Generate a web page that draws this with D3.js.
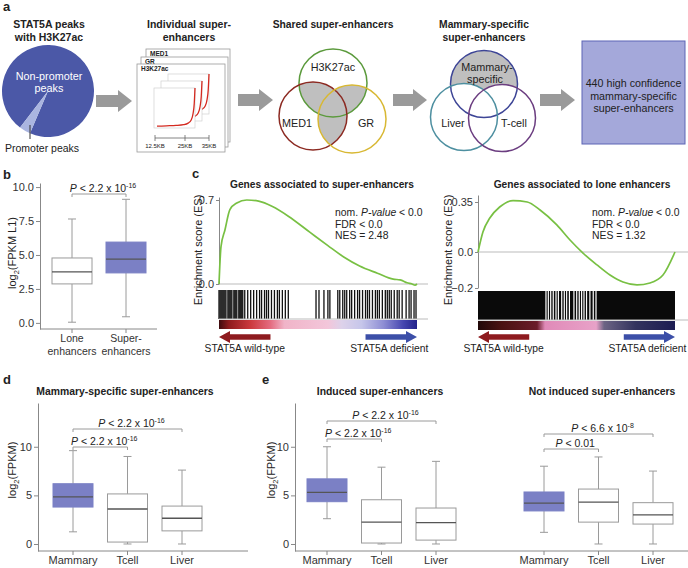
<!DOCTYPE html>
<html>
<head>
<meta charset="utf-8">
<script src="https://cdn.jsdelivr.net/npm/d3@7"></script>
<style>
  body { margin: 0; background: #fff; }
  svg text { font-family: "Liberation Sans", Arial, Helvetica, sans-serif; fill: #222; }
</style>
</head>
<body>
<svg id="fig" width="688" height="568"></svg>
<script>
// ---- values ----
const pieValues = [96, 4];                       // non-promoter, promoter
const cardNames = ["MED1", "GR", "H3K27ac"];
const miniCurve = [[0, 0.02], [0.25, 0.03], [0.5, 0.04], [0.7, 0.06], [0.82, 0.1], [0.9, 0.18], [0.95, 0.35], [0.98, 0.6], [1, 1]];
const miniTicks = [12.5, 25, 35];
const sharedSets = ["H3K27ac", "MED1", "GR"];
const tissueSets = ["Mammary-specific", "Liver", "T-cell"];
const summaryLines = ["440 high confidence", "mammary-specific", "super-enhancers"];

const bCats = [["Lone", "enhancers"], ["Super-", "enhancers"]];
const bFive = [[0.05, 2.87, 3.75, 4.78, 7.65], [0.45, 3.68, 4.70, 5.95, 9.10]];
const bTicks = [0, 2.5, 5, 7.5, 10];

const tissues = ["Mammary", "Tcell", "Liver"];
const dFive = [[1.25, 3.8, 4.85, 6.2, 9.6], [0, 0.2, 3.6, 5.15, 9.0], [0, 1.35, 2.65, 3.9, 7.6]];
const eIndFive = [[2.6, 4.35, 5.3, 6.7, 10.0], [0, 0.1, 2.25, 4.55, 7.9], [0, 0.4, 2.2, 3.7, 8.5]];
const eNotFive = [[1.2, 3.4, 4.2, 5.35, 8.0], [0, 2.25, 4.3, 5.65, 8.95], [0, 2.05, 3.0, 4.25, 7.5]];
const fpkmTicks = [0, 5, 10];

const bPairs = [{ a: 0, b: 1, p: "2.2 x 10", e: "-16" }];
const dPairs = [{ a: 0, b: 1, p: "2.2 x 10", e: "-16" }, { a: 0, b: 2, p: "2.2 x 10", e: "-16" }];
const eIndPairs = [{ a: 0, b: 1, p: "2.2 x 10", e: "-16" }, { a: 0, b: 2, p: "2.2 x 10", e: "-16" }];
const eNotPairs = [{ a: 0, b: 1, p: "0.01", e: null }, { a: 0, b: 2, p: "6.6 x 10", e: "-8" }];

// GSEA running enrichment score, [rank %, ES]
const esSuper = [[0, 0], [1, 0.31], [3, 0.45], [5.5, 0.62], [9, 0.675], [14, 0.70], [20, 0.69], [27, 0.645], [35, 0.565],
  [46, 0.43], [55, 0.32], [63, 0.225], [71, 0.15], [80, 0.09], [88, 0.04], [91.5, 0.035], [95, 0.01], [97.5, 0], [99, -0.01], [100, 0]];
const esLone = [[0, 0], [2.5, 0.14], [6, 0.238], [11, 0.315], [17.8, 0.36], [25, 0.35], [31.5, 0.294], [40, 0.19], [46.7, 0.084],
  [53.3, -0.006], [60.4, -0.072], [67, -0.128], [73.6, -0.167], [80.7, -0.183], [87.3, -0.172], [93.9, -0.128], [100, 0]];
const esSuperStats = ["< 0.0", "FDR < 0.0", "NES = 2.48"];
const esLoneStats = ["< 0.0", "FDR < 0.0", "NES = 1.32"];
// hit positions (rank %) for the super-enhancer gene set
const hitsSuper = [0, 0.5, 1, 1.5, 2, 2.5, 3, 3.5, 4.5, 5, 5.5, 6, 6.5, 7.5, 8, 8.5, 9, 10, 10.5, 11, 11.5, 12,
  13, 14.5, 16, 17.5, 19, 20.5, 21.5, 23, 24, 25, 26.5, 28, 29.5, 30.5, 32, 33.5, 35,
  49, 50.5, 53, 55, 56, 60, 61, 62.5, 63.5, 64.5, 66, 67, 68.5, 70, 71, 72.5, 74, 75, 76, 77.5, 79, 80, 81,
  82.5, 84, 85, 86, 87, 88.5, 90, 91, 92.5, 94.5, 96, 97, 98.5, 99.5];
// lone enhancer set: hits everywhere except these ranks
const gapsLone = [34.5, 35.7, 36.9, 38.2, 39.6, 40.8, 42.5, 43.8, 45, 46.4, 48.7, 50.1, 51.4, 52.6, 53.8, 55.1, 56.8, 58.5, 59.9];

// ---- helpers ----
const svg = d3.select("#fig");
const defs = svg.append("defs");
const PURPLE = "#7b80c5";
const GREY = "#9a9a9a";
const FS = 10.5;     // general label size

function txt(g, x, y, s, o = {}) {
  return g.append("text")
    .attr("x", x).attr("y", y)
    .attr("font-size", o.size || FS)
    .attr("font-weight", o.bold ? "bold" : null)
    .attr("text-anchor", o.anchor || "middle")
    .style("fill", o.fill || "#222")
    .text(s);
}

function blockArrow(g, x0, x1, cy, bh, hh, hl, dir, color) {
  const pts = dir > 0
    ? [[x0, cy - bh], [x1 - hl, cy - bh], [x1 - hl, cy - hh], [x1, cy], [x1 - hl, cy + hh], [x1 - hl, cy + bh], [x0, cy + bh]]
    : [[x1, cy - bh], [x0 + hl, cy - bh], [x0 + hl, cy - hh], [x0, cy], [x0 + hl, cy + hh], [x0 + hl, cy + bh], [x1, cy + bh]];
  g.append("path").attr("d", d3.line()(pts) + "Z").attr("fill", color);
}

function pText(g, x, y, d) {
  const t = g.append("text").attr("x", x).attr("y", y).attr("text-anchor", "middle").attr("font-size", 10.5);
  t.append("tspan").attr("font-style", "italic").text("P");
  t.append("tspan").text(" < " + d.p);
  if (d.e) t.append("tspan").attr("font-size", 7).attr("dy", -4.5).text(d.e);
}

function rotLabel(x, y, pre, sub, post, size = 11) {
  const t = svg.append("text").attr("transform", `translate(${x},${y}) rotate(-90)`)
    .attr("text-anchor", "middle").attr("font-size", size);
  t.append("tspan").text(pre);
  if (sub) {
    t.append("tspan").attr("font-size", 7.5).attr("dy", 3).text(sub);
    t.append("tspan").attr("dy", -3).text(post);
  }
}

function styleAxis(g) {
  g.attr("font-size", 11);
  g.selectAll("path,line").attr("stroke", "#888");
  g.selectAll("text").style("fill", "#333");
}

// ---- panel a ----
const a = svg.append("g");
txt(a, 3, 11, "a", { size: 13, bold: true, anchor: "start" });
txt(a, 49, 28, "STAT5A peaks", { size: 10.5, bold: true });
txt(a, 49, 41, "with H3K27ac", { size: 10.5, bold: true });

const pieG = a.append("g").attr("transform", "translate(48,91)");
const pie = d3.pie().sort(null).startAngle(-142.6 * Math.PI / 180).endAngle(217.4 * Math.PI / 180);
const arc = d3.arc().innerRadius(0).outerRadius(46);
pieG.selectAll("path").data(pie(pieValues)).join("path")
  .attr("d", arc).attr("fill", (d, i) => i === 0 ? "#4b58a7" : "#aab5e0");
txt(a, 49, 80, "Non-promoter", { size: 10.8, fill: "#fff" });
txt(a, 49, 92, "peaks", { size: 10.8, fill: "#fff" });
a.append("line").attr("x1", 30).attr("x2", 30).attr("y1", 125).attr("y2", 139).attr("stroke", "#333");
txt(a, 5, 152, "Promoter peaks", { size: 10.5, anchor: "start" });

blockArrow(a, 96, 132, 101, 6, 11, 14, 1, "#9a9a9a");
blockArrow(a, 238, 273, 100, 6, 11, 14, 1, "#9a9a9a");
blockArrow(a, 393, 427, 100, 6, 11, 14, 1, "#9a9a9a");
blockArrow(a, 540, 575, 100, 6, 11, 14, 1, "#9a9a9a");

// stacked super-enhancer cards
txt(a, 189, 28, "Individual super-", { size: 10.5, bold: true });
txt(a, 189, 41, "enhancers", { size: 10.5, bold: true });
const cards = [{ x: 146, y: 49, w: 84, h: 93 }, { x: 141, y: 57, w: 87, h: 90 }, { x: 137, y: 64, w: 88, h: 88 }];
cards.forEach((c, i) => {
  a.append("rect").attr("x", c.x).attr("y", c.y).attr("width", c.w).attr("height", c.h)
    .attr("fill", "#fff").attr("stroke", "#999").attr("stroke-width", 0.8);
  txt(a, c.x + 4, c.y + 7, cardNames[i], { size: 6.5, bold: true, anchor: "start" });
});
const frames = [{ x: 168, y: 74 }, { x: 161, y: 81 }, { x: 154, y: 88 }];
frames.forEach(f => {
  const fx = d3.scaleLinear().domain([0, 1]).range([f.x + 3, f.x + 41]);
  const fy = d3.scaleLinear().domain([0, 1]).range([f.y + 39, f.y]);
  a.append("rect").attr("x", f.x).attr("y", f.y).attr("width", 41).attr("height", 40)
    .attr("fill", "#fff").attr("stroke", "#d0d0d0").attr("stroke-width", 0.7);
  a.append("path").datum(miniCurve)
    .attr("d", d3.line().x(d => fx(d[0])).y(d => fy(d[1])).curve(d3.curveMonotoneX))
    .attr("fill", "none").attr("stroke", "#d42a20").attr("stroke-width", 1.3);
});
const kb = d3.scaleLinear().domain([12.5, 35]).range([155, 209]);
a.append("line").attr("x1", kb(12.5)).attr("x2", kb(35)).attr("y1", 138).attr("y2", 138).attr("stroke", "#666").attr("stroke-width", 0.8);
miniTicks.forEach(t => {
  a.append("line").attr("x1", kb(t)).attr("x2", kb(t)).attr("y1", 135).attr("y2", 141).attr("stroke", "#666").attr("stroke-width", 0.8);
  txt(a, kb(t), 148, t + "KB", { size: 6 });
});

// shared super-enhancers venn
txt(a, 333, 28, "Shared super-enhancers", { size: 10.3, bold: true });
const sharedLayout = [
  { cx: 333, cy: 83, r: 34, c: "#5b9a3c", lx: 333, ly: 71 },
  { cx: 313, cy: 116, r: 34, c: "#8c2a22", lx: 297, ly: 127 },
  { cx: 352, cy: 119, r: 34, c: "#d8b833", lx: 366, ly: 127 }];
sharedLayout.forEach((c, i) => {
  defs.append("clipPath").attr("id", "clip" + i).append("circle").attr("cx", c.cx).attr("cy", c.cy).attr("r", c.r);
});
[[1, 0], [2, 0], [2, 1]].forEach(([i, j]) => {
  const c = sharedLayout[i];
  a.append("circle").attr("cx", c.cx).attr("cy", c.cy).attr("r", c.r)
    .attr("fill", "#bfbfbf").attr("clip-path", `url(#clip${j})`);
});
sharedLayout.forEach((c, i) => {
  a.append("circle").attr("cx", c.cx).attr("cy", c.cy).attr("r", c.r)
    .attr("fill", "none").attr("stroke", c.c).attr("stroke-width", 1.5);
  txt(a, c.lx, c.ly, sharedSets[i], { size: 10.8 });
});

// mammary-specific venn
txt(a, 484, 28, "Mammary-specific", { size: 10.3, bold: true });
txt(a, 484, 41, "super-enhancers", { size: 10.3, bold: true });
const tissueLayout = [
  { cx: 484, cy: 84, r: 33.5, c: "#3d4596" },
  { cx: 464, cy: 117, r: 33.5, c: "#4d8fa0" },
  { cx: 502, cy: 118, r: 33.5, c: "#6b3d80" }];
a.append("circle").attr("cx", tissueLayout[0].cx).attr("cy", tissueLayout[0].cy).attr("r", tissueLayout[0].r).attr("fill", "#bfbfbf");
tissueLayout.slice(1).forEach(c => a.append("circle").attr("cx", c.cx).attr("cy", c.cy).attr("r", c.r).attr("fill", "#fff"));
tissueLayout.forEach(c => a.append("circle").attr("cx", c.cx).attr("cy", c.cy).attr("r", c.r)
  .attr("fill", "none").attr("stroke", c.c).attr("stroke-width", 1.5));
const mParts = tissueSets[0].split("-");
txt(a, 487, 71, mParts[0] + "-", { size: 10.8 });
txt(a, 485, 83, mParts[1], { size: 10.8 });
txt(a, 453, 127, tissueSets[1], { size: 10.8 });
txt(a, 514, 127, tissueSets[2], { size: 10.8 });

a.append("rect").attr("x", 582).attr("y", 41).attr("width", 103).attr("height", 103)
  .attr("fill", "#a4a8da").attr("stroke", "#5c64b5").attr("stroke-width", 1);
summaryLines.forEach((s, i) => txt(a, 633.5, 87 + i * 12.5, s, { size: 10.7 }));

// ---- box plot helper ----
function boxPanel(cfg) {
  const g = svg.append("g");
  const x = d3.scalePoint().domain(d3.range(cfg.five.length)).range(cfg.xr);
  const y = cfg.y;
  const base = y.range()[0];
  if (cfg.ax !== undefined) {
    const ag = g.append("g").attr("transform", `translate(${cfg.ax},0)`)
      .call(d3.axisLeft(y).tickValues(cfg.ticks).tickFormat(cfg.fmt).tickSize(4).tickPadding(2).tickSizeOuter(0));
    styleAxis(ag);
  }
  g.append("line").attr("x1", cfg.xl[0]).attr("x2", cfg.xl[1]).attr("y1", base).attr("y2", base).attr("stroke", "#888");
  cfg.labels.forEach((lab, i) => {
    g.append("line").attr("x1", x(i)).attr("x2", x(i)).attr("y1", base).attr("y2", base + 4).attr("stroke", "#888");
    [].concat(lab).forEach((s, k) => txt(g, x(i), cfg.labY + k * 13, s, { size: cfg.labSize || 11, fill: "#333" }));
  });
  const bw = 40;
  cfg.five.forEach((f, i) => {
    const [lo, q1, med, q3, hi] = f;
    const cx = x(i);
    const filled = cfg.fill[i];
    g.append("line").attr("x1", cx).attr("x2", cx).attr("y1", y(hi)).attr("y2", y(q3)).attr("stroke", GREY);
    g.append("line").attr("x1", cx).attr("x2", cx).attr("y1", y(q1)).attr("y2", y(lo)).attr("stroke", GREY);
    [hi, lo].forEach(v => g.append("line").attr("x1", cx - 4).attr("x2", cx + 4).attr("y1", y(v)).attr("y2", y(v)).attr("stroke", GREY));
    g.append("rect").attr("x", cx - bw / 2).attr("y", y(q3)).attr("width", bw).attr("height", y(q1) - y(q3))
      .attr("fill", filled ? PURPLE : "#fff").attr("stroke", filled ? PURPLE : GREY);
    g.append("line").attr("x1", cx - bw / 2).attr("x2", cx + bw / 2).attr("y1", y(med)).attr("y2", y(med))
      .attr("stroke", "#555").attr("stroke-width", 1.3);
  });
  cfg.pairs.forEach((p, k) => {
    const ly = cfg.levels[k];
    const x1 = x(p.a), x2 = x(p.b);
    g.append("path").attr("d", `M${x1},${ly + 3}V${ly}H${x2}V${ly + 3}`).attr("fill", "none").attr("stroke", GREY);
    pText(g, (x1 + x2) / 2 + 4, ly - 2, p);
  });
  return g;
}

// ---- panel b ----
txt(svg, 3, 179, "b", { size: 13, bold: true, anchor: "start" });
const yB = d3.scaleLinear().domain([-0.45, 10.3]).range([329, 183]);
boxPanel({ five: bFive, xr: [72, 126], y: yB, ax: 40, ticks: bTicks, fmt: d3.format(".1f"),
  xl: [40, 157], labels: bCats, labY: 342, labSize: 10.5, fill: [false, true], pairs: bPairs, levels: [194] });
rotLabel(16, 253, "log", "2", "(FPKM L1)");

// ---- panel c ----
txt(svg, 192, 178, "c", { size: 13, bold: true, anchor: "start" });
function gseaPanel(cfg) {
  const g = svg.append("g");
  const x = d3.scaleLinear().domain([0, 100]).range(cfg.xr);
  const y = cfg.y;
  txt(g, cfg.titleX, 188, cfg.title, { size: 10.2, bold: true });
  const ag = g.append("g").attr("transform", `translate(${cfg.xr[0]},0)`)
    .call(d3.axisLeft(y).tickValues(cfg.ticks).tickFormat(cfg.fmt).tickSize(3).tickPadding(2).tickSizeOuter(0));
  styleAxis(ag);
  g.append("line").attr("x1", x(0)).attr("x2", cfg.lineEnd).attr("y1", y(0)).attr("y2", y(0)).attr("stroke", "#bbb");
  g.append("path").datum(cfg.es)
    .attr("d", d3.line().x(d => x(d[0])).y(d => y(d[1])).curve(d3.curveMonotoneX))
    .attr("fill", "none").attr("stroke", "#78c043").attr("stroke-width", 1.7);
  // barcode
  const [bt, bb] = cfg.bar;
  if (cfg.hits) {
    g.selectAll(".hit").data(cfg.hits).join("line")
      .attr("x1", d => x(d)).attr("x2", d => x(d)).attr("y1", bt).attr("y2", bb)
      .attr("stroke", "#111").attr("stroke-width", 1.3);
  } else {
    g.append("rect").attr("x", x(0)).attr("y", bt).attr("width", x(100) - x(0)).attr("height", bb - bt).attr("fill", "#0a0a0a");
    g.selectAll(".gap").data(cfg.gaps).join("line")
      .attr("x1", d => x(d)).attr("x2", d => x(d)).attr("y1", bt).attr("y2", bb)
      .attr("stroke", "#fff").attr("stroke-width", 1.2);
  }
  g.append("line").attr("x1", x(0)).attr("x2", cfg.lineEnd).attr("y1", bb).attr("y2", bb).attr("stroke", "#bbb");
  const grad = defs.append("linearGradient").attr("id", cfg.id);
  grad.selectAll("stop").data(cfg.stops).join("stop").attr("offset", d => d[0]).attr("stop-color", d => d[1]);
  g.append("rect").attr("x", x(0)).attr("y", bb + 1).attr("width", x(100) - x(0)).attr("height", 9).attr("fill", `url(#${cfg.id})`);
  // direction arrows
  blockArrow(g, x(0), x(26), 337, 2.8, 6, 11, -1, "#8e1b1f");
  blockArrow(g, x(74), x(100), 337, 2.8, 6, 11, 1, "#3c4fa8");
  txt(g, x(13), 352, "STAT5A wild-type", { size: 10.3 });
  txt(g, x(86), 352, "STAT5A deficient", { size: 10.3 });
  // stats
  const t0 = g.append("text").attr("x", cfg.statX).attr("y", 216).attr("font-size", 10.4);
  t0.append("tspan").text("nom. ");
  t0.append("tspan").attr("font-style", "italic").text("P-value");
  t0.append("tspan").text(" " + cfg.stats[0]);
  txt(g, cfg.statX, 227.5, cfg.stats[1], { size: 10.4, anchor: "start" });
  txt(g, cfg.statX, 239, cfg.stats[2], { size: 10.4, anchor: "start" });
  rotLabel(cfg.labX, 250, "Enrichment score (ES)", null, null, 11);
}
gseaPanel({ id: "gL", xr: [219, 417], y: d3.scaleLinear().domain([0, 0.725]).range([284, 197]),
  ticks: [0, 0.7], fmt: d3.format(".1f"), title: "Genes associated to super-enhancers", titleX: 322,
  es: esSuper, hits: hitsSuper, bar: [290, 319], lineEnd: 428, statX: 335, stats: esSuperStats, labX: 202,
  stops: [[0, "#3e0b0e"], [0.05, "#8e1b1d"], [0.16, "#cc3a3e"], [0.26, "#e46c80"], [0.33, "#f0b4c8"], [0.55, "#f3c6da"],
    [0.62, "#ddd2ea"], [0.72, "#c6c6ea"], [0.83, "#8e8ed4"], [0.93, "#4646b0"], [1, "#22228a"]] });
gseaPanel({ id: "gR", xr: [478, 675], y: d3.scaleLinear().domain([-0.2, 0, 0.35, 0.40]).range([288, 252, 202, 195]),
  ticks: [-0.2, 0, 0.35], fmt: d => d === 0.35 ? "0.35" : d3.format(".1f")(d), title: "Genes associated to lone enhancers", titleX: 582,
  es: esLone, gaps: gapsLone, bar: [291, 320], lineEnd: 688, statX: 592, stats: esLoneStats, labX: 452,
  stops: [[0, "#200808"], [0.12, "#4a1212"], [0.3, "#6a1c2a"], [0.34, "#e08ab8"], [0.6, "#e8a2c8"], [0.64, "#6c6484"],
    [0.8, "#33335e"], [1, "#1c1c52"]] });

// ---- panel d ----
txt(svg, 3, 384, "d", { size: 13, bold: true, anchor: "start" });
const yF = d3.scaleLinear().domain([-0.72, 14.5]).range([551, 403]);
txt(svg, 125, 395, "Mammary-specific super-enhancers", { size: 10.4, bold: true });
boxPanel({ five: dFive, xr: [73, 182], y: yF, ax: 38, ticks: fpkmTicks, fmt: d3.format("d"),
  xl: [38, 248], labels: tissues, labY: 564, fill: [true, false, false], pairs: dPairs, levels: [447, 429] });
rotLabel(16, 470, "log", "2", "(FPKM)");

// ---- panel e ----
txt(svg, 262, 384, "e", { size: 13, bold: true, anchor: "start" });
txt(svg, 380, 395, "Induced super-enhancers", { size: 10.4, bold: true });
boxPanel({ five: eIndFive, xr: [327, 436], y: yF, ax: 295, ticks: fpkmTicks, fmt: d3.format("d"),
  xl: [295, 476], labels: tissues, labY: 564, fill: [true, false, false], pairs: eIndPairs, levels: [439, 421] });
rotLabel(275, 470, "log", "2", "(FPKM)");
txt(svg, 602, 395, "Not induced super-enhancers", { size: 10.4, bold: true });
boxPanel({ five: eNotFive, xr: [544, 653], y: yF,
  xl: [476, 688], labels: tissues, labY: 564, fill: [true, false, false], pairs: eNotPairs, levels: [449, 434] });
</script>
</body>
</html>
